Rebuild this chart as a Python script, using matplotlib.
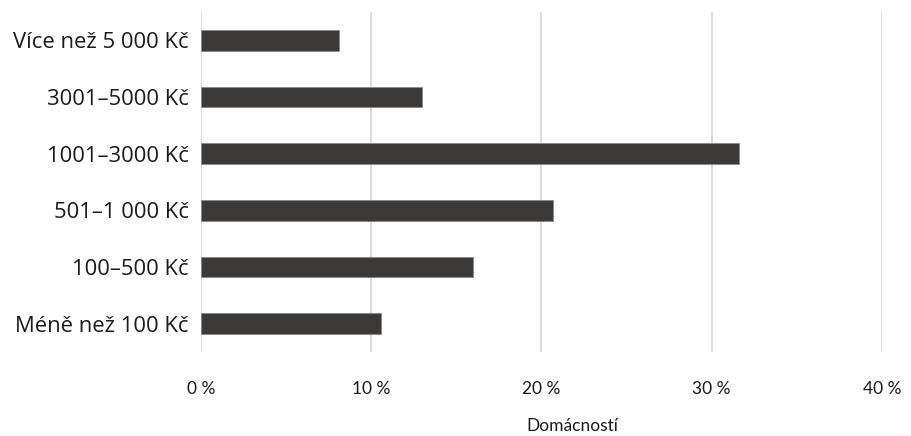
import matplotlib
matplotlib.use("Agg")
import matplotlib.pyplot as plt

# categories from bottom to top
categories = ["Méně než 100 Kč", "100–500 Kč", "501–1 000 Kč",
              "1001–3000 Kč", "3001–5000 Kč", "Více než 5 000 Kč"]
shares = [10.6, 16.0, 20.7, 31.6, 13.0, 8.1]
ticks = [0, 10, 20, 30, 40]
tick_labels = ["0 %", "10 %", "20 %", "30 %", "40 %"]

fig = plt.figure(figsize=(9.12, 4.36), dpi=100)
ax = fig.add_axes([0.2204, 0.1927, 0.967 - 0.2204, 0.9725 - 0.1927])

ax.barh(range(len(categories)), shares, height=0.36, color="#3b3a38",
        edgecolor="#8a8a8a", linewidth=0.6, zorder=3)

ax.set_xlim(0, 40)
ax.set_ylim(-0.5, len(categories) - 0.5)
ax.set_xticks(ticks)
ax.set_xticklabels(tick_labels, fontfamily="Lato", fontsize=12.5, color="#1a1a1a")
ax.set_yticks(range(len(categories)))
ax.set_yticklabels(categories, fontfamily="Open Sans", fontsize=15.8, color="#1a1a1a")
ax.tick_params(axis="both", length=0)
ax.tick_params(axis="x", pad=21)
ax.tick_params(axis="y", pad=9)

ax.grid(axis="x", color="#d9d9d9", linewidth=1.3, zorder=0)
for s in ax.spines.values():
    s.set_visible(False)

ax.set_xlabel("Domácností", fontfamily="Lato", fontsize=12.5, color="#1a1a1a")
ax.xaxis.set_label_coords(0.545, -0.195)

fig.savefig("out.png", dpi=100)
